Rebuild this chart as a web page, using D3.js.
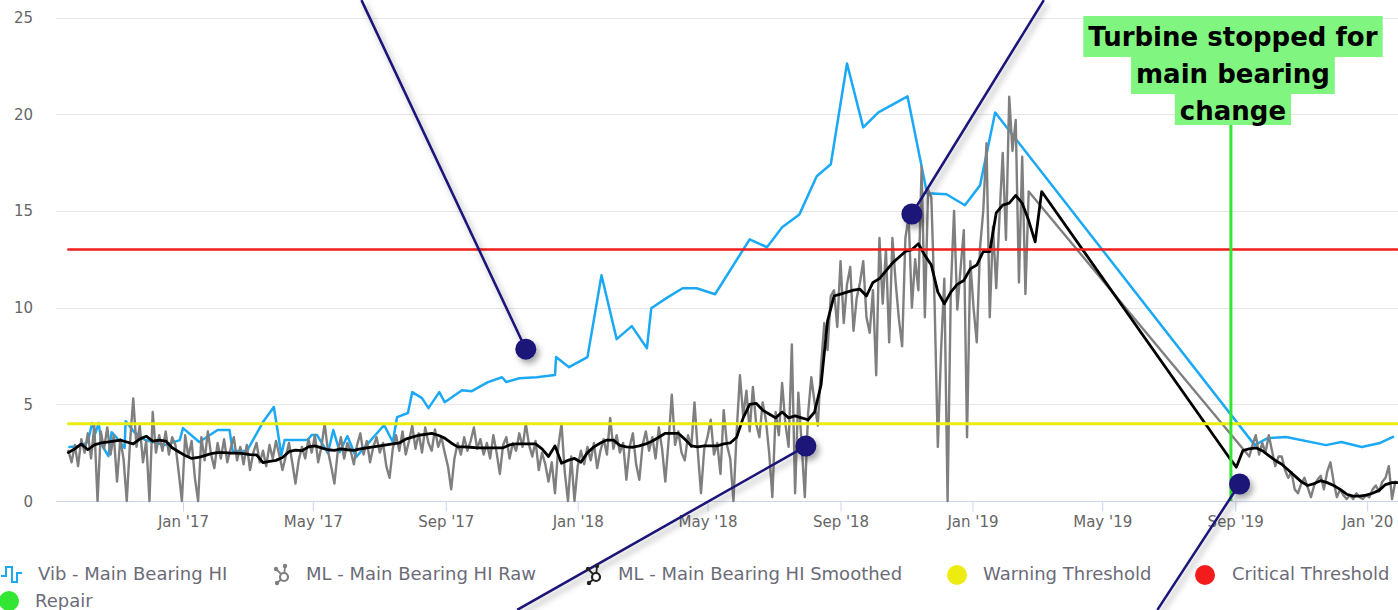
<!DOCTYPE html>
<html>
<head>
<meta charset="utf-8">
<script src="https://cdn.jsdelivr.net/npm/d3@7"></script>
<style>
html, body { margin: 0; padding: 0; background: #fff; }
svg { display: block; font-family: "DejaVu Sans", sans-serif; }
</style>
</head>
<body>
<svg id="chart" width="1398" height="610"></svg>
<script>
var parseDay = d3.timeParse("%Y-%m-%d");
var parseHour = d3.timeParse("%Y-%m-%d %H:%M");

// axis extent and ticks
var xRange = ["2016-09-06 12:00", "2020-01-29 12:00"];
var yTicks = [0, 5, 10, 15, 20, 25];
var xTicks = ["2017-01-01", "2017-05-01", "2017-09-01", "2018-01-01", "2018-05-01",
              "2018-09-01", "2019-01-01", "2019-05-01", "2019-09-01", "2020-01-01"];

// Vib - Main Bearing HI (irregular samples)
var vibHI = [
    ["2016-09-18",2.79],["2016-09-28",2.84],["2016-10-05",3.05],["2016-10-09",4.03],["2016-10-12",3.51],
    ["2016-10-15",4.03],["2016-10-18",2.89],["2016-10-24",2.32],["2016-10-27",3.56],["2016-11-01",3.25],
    ["2016-11-08",2.74],["2016-11-09",4.13],["2016-11-17",3.56],["2016-11-27",3.15],["2016-12-15",2.89],
    ["2016-12-29",3.15],["2017-01-01",3.77],["2017-01-16",3.05],["2017-02-02",3.67],["2017-02-13",3.67],
    ["2017-02-16",2.58],["2017-03-01",2.58],["2017-03-16",4.08],["2017-03-26",4.86],["2017-04-02",2.38],
    ["2017-04-05",3.15],["2017-04-26",3.15],["2017-04-30",3.41],["2017-05-05",3.41],["2017-05-15",2.48],
    ["2017-05-20",3.67],["2017-05-26",2.53],["2017-06-02",3.36],["2017-06-10",2.27],["2017-07-06",3.93],
    ["2017-07-14",3.05],["2017-07-18",4.34],["2017-07-28",4.55],["2017-08-01",5.63],["2017-08-10",5.32],
    ["2017-08-16",4.80],["2017-08-26",5.63],["2017-08-31",5.11],["2017-09-16",5.73],["2017-09-25",5.68],
    ["2017-10-10",6.15],["2017-10-23",6.40],["2017-10-27",6.15],["2017-11-08",6.35],["2017-11-24",6.40],
    ["2017-12-11",6.51],["2017-12-12",7.44],["2017-12-24",6.92],["2018-01-10",7.44],["2018-01-23",11.67],
    ["2018-02-06",8.37],["2018-02-20",9.04],["2018-03-06",7.90],["2018-03-10",9.97],["2018-03-24",10.49],
    ["2018-04-08",11.0],["2018-04-21",11.0],["2018-05-08",10.69],["2018-06-09",13.53],["2018-06-25",13.12],
    ["2018-07-09",14.15],["2018-07-25",14.82],["2018-08-10",16.79],["2018-08-23",17.41],["2018-09-07",22.62],
    ["2018-09-22",19.32],["2018-10-06",20.09],["2018-11-02",20.92],["2018-11-20",15.91],["2018-12-08",15.86],
    ["2018-12-25",15.29],["2019-01-08",16.32],["2019-01-22",20.09],["2019-09-19",2.89],["2019-10-01",3.25],
    ["2019-10-18",3.31],["2019-11-24",2.89],["2019-12-08",3.05],["2019-12-27",2.79],["2020-01-13",3.0],
    ["2020-01-25",3.31]
];

// ML - Main Bearing HI Raw, one value every 3 days
var rawStart = "2016-09-17";
var rawStep = 3;
var mlRaw = [
    2.6,2.0,2.9,1.8,3.2,2.5,3.5,2.2,3.9,0,3.6,2.7,3.8,2.4,3.4,1.0,3.2,2.2,0,3.0,
    5.3,2.8,3.9,2.0,3.1,0,4.6,2.5,3.4,2.6,3.6,2.4,3.3,2.9,1.5,0,3.4,2.3,3.1,1.2,
    0,3.3,2.1,3.6,2.4,1.7,3.0,2.2,3.2,2.0,2.7,3.3,2.1,2.8,1.9,2.9,1.6,2.5,3.0,2.0,
    2.6,1.8,2.9,2.2,3.1,2.4,1.6,2.3,3.0,2.0,0.9,2.1,2.8,2.2,3.2,2.5,3.4,2.0,2.8,4.0,
    2.6,1.8,0.9,2.5,3.3,2.2,3.0,2.6,1.9,2.9,3.5,2.4,3.1,2.0,2.8,3.3,2.5,3.0,1.8,1.2,
    2.7,3.4,2.6,3.6,2.4,3.1,3.9,2.7,3.5,2.5,3.8,3.0,2.6,3.7,2.8,3.3,2.5,1.8,0.6,2.2,
    3.0,2.4,3.3,2.6,3.1,3.8,2.7,3.2,2.4,3.0,2.2,3.4,2.5,1.4,2.9,3.3,2.2,3.0,2.6,3.5,
    2.8,4.0,2.9,2.3,3.1,1.6,2.5,1.9,1.0,2.0,0.4,2.8,4.0,1.5,0,2.3,0,1.8,2.6,1.9,
    2.8,2.1,3.0,1.7,2.6,3.2,2.4,4.3,2.7,3.4,2.5,3.0,1.1,2.8,3.5,1.9,1.1,2.9,3.6,2.6,
    3.3,2.2,3.8,2.7,1.0,3.1,5.5,2.9,3.6,2.5,2.1,3.4,2.8,5.1,2.6,0.4,2.7,3.3,4.2,2.4,
    3.0,1.4,4.7,2.9,2.2,0,3.6,6.5,4.4,5.7,3.6,5.9,4.0,3.3,5.1,4.2,2.5,0.2,4.6,3.4,
    6.1,4.0,2.8,8.1,0.4,5.6,3.0,0.2,4.5,6.4,5.1,3.9,7.0,9.2,7.8,10.6,10.9,9.0,12.4,9.2,
    11.2,12.1,8.8,10.5,11.3,12.4,9.5,8.7,10.9,6.5,13.6,10.2,13.0,8.2,13.6,11.3,9.4,8.0,13.6,14.7,
    10.0,12.5,10.9,17.3,9.5,16.1,15.7,10.2,2.8,7.8,11.5,0,10.9,15.0,9.9,12.0,14.0,3.3,12.4,10.0,
    8.2,13.1,15.0,18.5,9.5,14.2,11.0,14.7,18.0,13.5,20.9,18.1,19.7,11.3,17.8,10.7,16.0
];
// raw values after the bearing change
var rawRestart = "2019-09-14";
var mlRawAfter = [
    2.3,2.9,3.4,2.4,3.0,2.5,3.4,2.6,1.8,2.3,2.3,1.6,1.2,1.5,0.6,0.4,0.9,1.2,0.7,0.2,
    0.8,1.1,1.3,0.6,1.5,2.0,1.0,0.2,0.6,0.3,0.1,0.3,0.1,0.4,0.2,0.1,0.3,0.2,0.6,0.8,
    0.5,1.0,1.2,1.8,0.1,1.0
];

// ML - Main Bearing HI Smoothed, one value every 6 days
var smoothStart = "2016-09-17";
var smoothStep = 6;
var mlSmooth = [
    2.5,2.7,2.95,2.65,2.9,3.0,3.05,3.1,3.15,3.05,
    2.95,3.2,3.35,3.1,3.15,3.1,2.75,2.55,2.35,2.2,
    2.25,2.35,2.45,2.5,2.5,2.48,2.48,2.45,2.4,2.38,
    1.98,2.05,2.1,2.25,2.55,2.63,2.6,2.8,2.85,2.75,
    2.65,2.62,2.7,2.65,2.62,2.7,2.75,2.8,2.85,2.9,
    2.95,3.0,3.2,3.3,3.4,3.45,3.5,3.4,3.25,3.0,
    2.8,2.8,2.78,2.75,2.75,2.75,2.75,2.75,2.9,2.95,
    2.95,2.95,2.95,2.7,2.3,2.85,1.95,2.1,2.2,2.0,
    2.5,2.8,3.0,3.15,3.15,2.88,2.8,2.78,2.85,2.95,
    3.1,3.3,3.5,3.5,3.5,3.2,2.85,2.8,2.85,2.85,
    2.85,2.95,3.0,3.3,4.3,5.0,5.05,4.7,4.5,4.3,
    4.6,4.3,4.4,4.3,4.2,4.6,6.0,9.3,10.6,10.7,
    10.8,10.9,10.95,10.6,11.3,11.5,11.9,12.3,12.6,12.9,
    13.0,13.3,12.7,12.2,10.8,10.2,10.8,11.2,11.4,12.0,
    12.2,12.9,12.9,14.9,15.3,15.4,15.8,15.4,14.5,13.4,
    16.0
];
var smoothRestart = "2019-08-27";
var mlSmoothAfter = [
    2.2,1.75,2.6,2.7,2.75,2.6,2.35,2.1,1.9,1.6,1.3,1.0,0.8,0.9,1.05,0.95,0.8,0.6,0.35,0.25,
    0.25,0.3,0.4,0.55,0.85,0.95,0.95
];

var warningLevel = 4;
var criticalLevel = 13;
var thresholdSpan = ["2016-09-17", "2020-01-29"];

var repairDate = "2019-08-28";
var repairNote = ["Turbine stopped for", "main bearing", "change"];

// callout pins: [pin date, pin value, far end date, far end value]
var callouts = [
    ["2017-11-14", 7.85, "2017-06-15", 25.9],
    ["2018-11-06", 14.84, "2019-03-08", 25.9],
    ["2018-07-31", 2.84, "2017-11-06", -5.63],
    ["2019-09-05", 0.88, "2019-06-21", -5.63]
];

var legendNames = ["Vib - Main Bearing HI", "ML - Main Bearing HI Raw", "ML - Main Bearing HI Smoothed",
                   "Warning Threshold", "Critical Threshold", "Repair"];

var colors = {
    vib: "#1ba9f5",
    raw: "#7f7f7f",
    smooth: "#000000",
    warning: "#ecec10",
    critical: "#f21c1c",
    repair: "#33e633",
    pin: "#1a1278",
    note: "#80f680"
};

var svg = d3.select("#chart");

var x = d3.scaleTime().domain(xRange.map(parseHour)).range([57, 1398]);
var y = d3.scaleLinear().domain([0, 25]).range([501, 17.5]);

var defs = svg.append("defs");
defs.append("filter").attr("id", "shadow")
    .attr("x", "-50%").attr("y", "-50%").attr("width", "200%").attr("height", "200%")
    .append("feDropShadow")
    .attr("dx", 3).attr("dy", 4).attr("stdDeviation", 3)
    .attr("flood-color", "#000").attr("flood-opacity", 0.35);

// grid lines
svg.append("g").selectAll("line")
    .data(yTicks.filter(function(t){ return t > 0; }))
    .enter().append("line")
    .attr("x1", 56).attr("x2", 1398)
    .attr("y1", function(d){ return Math.round(y(d)) + 0.5; })
    .attr("y2", function(d){ return Math.round(y(d)) + 0.5; })
    .attr("stroke", "#e6e6e6");

// y labels
svg.append("g").selectAll("text")
    .data(yTicks)
    .enter().append("text")
    .attr("x", 33)
    .attr("y", function(d){ return y(d) + 5.5; })
    .attr("text-anchor", "end")
    .attr("font-size", 15)
    .attr("fill", "#666")
    .text(function(d){ return d; });

// x axis
var xAxis = d3.axisBottom(x)
    .tickValues(xTicks.map(parseDay))
    .tickFormat(d3.timeFormat("%b '%y"))
    .tickSize(10)
    .tickSizeOuter(0)
    .tickPadding(5);

var gx = svg.append("g")
    .attr("transform", "translate(0,501.5)")
    .call(xAxis)
    .attr("font-family", null)
    .attr("font-size", 15);
gx.select(".domain").remove();
gx.selectAll(".tick line").attr("stroke", "#ccd6eb");
gx.selectAll(".tick text").attr("fill", "#666");
gx.append("line").attr("x1", 56).attr("x2", 1398).attr("stroke", "#ccd6eb");

// series
function stepped(start, step, values){
    var t0 = parseDay(start);
    return values.map(function(v, i){ return [d3.timeDay.offset(t0, i * step), v]; });
}

var vibData = vibHI.map(function(d){ return [parseDay(d[0]), d[1]]; });
var rawData = stepped(rawStart, rawStep, mlRaw).concat(stepped(rawRestart, rawStep, mlRawAfter));
var smoothData = stepped(smoothStart, smoothStep, mlSmooth).concat(stepped(smoothRestart, smoothStep, mlSmoothAfter));
var warnData = thresholdSpan.map(function(d){ return [parseDay(d), warningLevel]; });
var critData = thresholdSpan.map(function(d){ return [parseDay(d), criticalLevel]; });

var line = d3.line()
    .x(function(d){ return x(d[0]); })
    .y(function(d){ return y(d[1]); });

var plot = svg.append("g");
var seriesList = [
    { data: vibData, color: colors.vib, width: 2.5 },
    { data: rawData, color: colors.raw, width: 2.4 },
    { data: smoothData, color: colors.smooth, width: 2.8 },
    { data: warnData, color: colors.warning, width: 3 },
    { data: critData, color: colors.critical, width: 2.5 }
];
seriesList.forEach(function(s){
    plot.append("path")
        .datum(s.data)
        .attr("d", line)
        .attr("fill", "none")
        .attr("stroke", s.color)
        .attr("stroke-width", s.width)
        .attr("stroke-linejoin", "round")
        .attr("stroke-linecap", "round");
});

// repair marker
var rx = x(parseDay(repairDate));
svg.append("line")
    .attr("x1", rx).attr("x2", rx)
    .attr("y1", y(25)).attr("y2", y(0))
    .attr("stroke", colors.repair)
    .attr("stroke-width", 3);

// callout pins
var pins = svg.append("g").attr("filter", "url(#shadow)");
callouts.forEach(function(c){
    var px = x(parseDay(c[0])), py = y(c[1]);
    pins.append("line")
        .attr("x1", px).attr("y1", py)
        .attr("x2", x(parseDay(c[2]))).attr("y2", y(c[3]))
        .attr("stroke", colors.pin)
        .attr("stroke-width", 2.5);
    pins.append("circle")
        .attr("cx", px).attr("cy", py).attr("r", 10.5)
        .attr("fill", colors.pin);
});

// repair note
var note = svg.append("g");
var noteBase = [46, 83, 120];
repairNote.forEach(function(txt, i){
    var t = note.append("text")
        .attr("x", rx + 2)
        .attr("y", noteBase[i])
        .attr("text-anchor", "middle")
        .attr("font-size", 26)
        .attr("font-weight", "bold")
        .attr("fill", "#000")
        .text(txt);
    var bb = t.node().getBBox();
    note.insert("rect", "text")
        .attr("x", bb.x - 5)
        .attr("y", noteBase[i] - 30)
        .attr("width", bb.width + 10)
        .attr("height", i === 2 ? 35 : 41)
        .attr("fill", colors.note);
});

// legend
var legend = svg.append("g").attr("font-size", 18).attr("fill", "#6b6b78");
var legendPos = [[38, 580], [306, 580], [618, 580], [983, 580], [1232, 580], [35, 607]];
legendNames.forEach(function(name, i){
    legend.append("text")
        .attr("x", legendPos[i][0])
        .attr("y", legendPos[i][1])
        .text(name);
});

// vib icon: square wave
legend.append("path")
    .attr("d", "M1,576H6V567H12V582H17V573H22")
    .attr("fill", "none")
    .attr("stroke", colors.vib)
    .attr("stroke-width", 2);

// ML icons
function mlIcon(cx, cy, color){
    var g = legend.append("g").attr("stroke", color).attr("fill", color);
    var ends = [[-8, -8], [1, -11], [-7, 6]];
    ends.forEach(function(e){
        g.append("line").attr("x1", cx).attr("y1", cy)
            .attr("x2", cx + e[0]).attr("y2", cy + e[1]).attr("stroke-width", 1.8);
        g.append("circle").attr("cx", cx + e[0]).attr("cy", cy + e[1]).attr("r", 2.2).attr("stroke", "none");
    });
    g.append("circle").attr("cx", cx).attr("cy", cy).attr("r", 4)
        .attr("fill", "#fff").attr("stroke-width", 2.2);
}
mlIcon(284, 577, colors.raw);
mlIcon(596, 577, "#222");

// dot markers
var dots = [[957, 575, colors.warning], [1205, 575, colors.critical], [9, 601, colors.repair]];
dots.forEach(function(d){
    legend.append("circle").attr("cx", d[0]).attr("cy", d[1]).attr("r", 10).attr("fill", d[2]);
});
</script>
</body>
</html>
